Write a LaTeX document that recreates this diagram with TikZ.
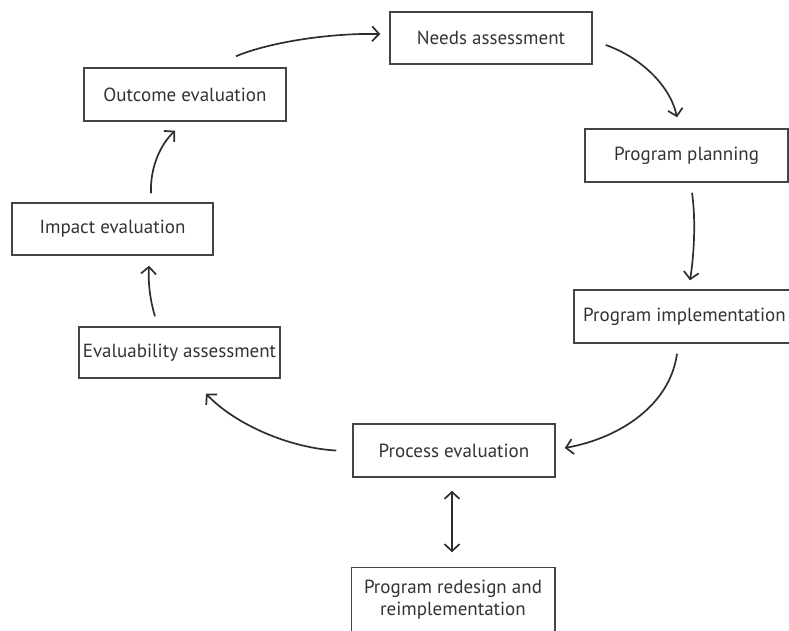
\documentclass[tikz,border=0pt]{standalone}
\usepackage{fontspec}
\setmainfont{PT Sans}
\usetikzlibrary{arrows.meta,calc}
\definecolor{ink}{HTML}{2E2E2E}
\definecolor{boxline}{HTML}{444444}
\definecolor{txt}{HTML}{333333}
\tikzset{
  stage/.style={draw=boxline, line width=1.5pt, rectangle, minimum height=52pt,
    minimum width=202pt, inner sep=0pt, text=txt, font=\fontsize{19}{22}\selectfont, align=center},
  barb/.tip={Straight Barb[length=7pt,width=15pt,line width=1.7pt]},
  flow/.style={draw=ink, line width=1.7pt, -barb},
  twoway/.style={draw=ink, line width=1.7pt, barb-barb}
}
\begin{document}
\begin{tikzpicture}[x=1pt,y=-1pt]
\useasboundingbox (0,0) rectangle (789,630);
\clip (0,0) rectangle (789,630);

% stages of the cycle
\node[stage] (needs) at (491,38) {Needs assessment};
\node[stage, minimum width=203pt, minimum height=53pt] (planning) at (686.5,155.5) {Program planning};
\node[stage, minimum width=221pt, minimum height=53pt] (impl) at (684.5,316.5) {Program implementation};
\node[stage, minimum height=53pt] (process) at (454,450.5) {Process evaluation};
\node[stage, minimum width=201pt, minimum height=51pt] (evaluability) at (179.5,352.5) {Evaluability assessment};
\node[stage, minimum width=201pt] (impact) at (112.5,229) {Impact evaluation};
\node[stage, minimum height=53pt] (outcome) at (185,94.5) {Outcome evaluation};

% redesign box, open at the lower edge
\node[stage, draw=none, minimum width=202pt, minimum height=64pt] (redesign) at (453,600)
  {Program redesign and\\reimplementation};
\draw[boxline, line width=1.5pt] ($(redesign.south west)+(0,20)$) |- (redesign.north east) -- ($(redesign.south east)+(0,20)$);

% cycle connectors
\draw[flow] ($(outcome.north)+(51,-11)$) .. controls (270,42) and (330,33) .. ($(needs.west)+(-9,-4)$);
\draw[flow] ($(needs.east)+(13,7)$) .. controls (640,57) and (670,85) .. ($(planning.north)+(-9.5,-11)$);
\draw[flow] ($(planning.south)+(5.5,10)$) .. controls (696,220) and (694,255) .. ($(impl.north)+(5.5,-9)$);
\draw[flow] ($(impl.south)+(-7.5,10)$) .. controls (670,405) and (620,438) .. ($(process.east)+(9,-2.5)$);
\draw[flow] ($(process.west)+(-16,0)$) .. controls (290,448) and (236,425) .. ($(evaluability.south)+(26.5,15)$);
\draw[flow] ($(evaluability.north)+(-24.5,-10)$) .. controls (150,300) and (148,282) .. ($(impact.south)+(36.5,10)$);
\draw[flow] ($(impact.north)+(38.5,-9)$) .. controls (150,168) and (160,145) .. ($(outcome.south)+(-10,9)$);
\draw[twoway] ($(process.south)+(-2,13)$) -- ($(redesign.north)+(-1,-15)$);
\end{tikzpicture}
\end{document}
